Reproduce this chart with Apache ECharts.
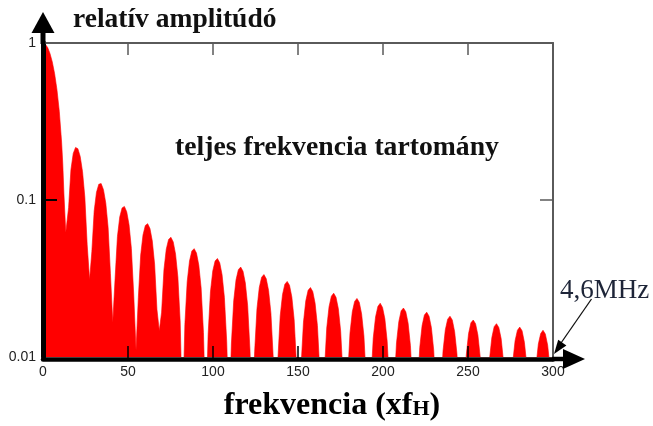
<!DOCTYPE html>
<html>
<head>
<meta charset="utf-8">
<script src="https://cdn.jsdelivr.net/npm/echarts@6/dist/echarts.min.js"></script>
<style>
html,body{margin:0;padding:0;background:#fff;}
#chart{width:653px;height:426px;}
</style>
</head>
<body>
<div id="chart"></div>
<script>
// Frequency (x fH) of each read point along the spectrum outline
const freq = [
  0, 1.37, 2.74, 4.10, 5.47, 6.84, 8.21, 9.58, 10.94, 11.63, 12.31,
  13.40,
  15.05, 16.42, 17.78, 19.15, 20.52, 21.89, 23.26, 24.62, 25.99,
  27.40,
  28.73, 30.10, 31.46, 32.83, 34.20, 35.57, 36.94, 38.30, 39.67,
  41.04,
  42.41, 43.78, 45.14, 46.51, 47.88, 49.25, 50.62, 51.98, 53.35,
  54.72,
  56.09, 57.46, 58.82, 60.19, 61.56, 62.93, 64.30, 65.66, 67.03,
  68.40,
  69.77, 71.14, 72.50, 73.87, 75.24, 76.61, 77.98, 79.34, 80.71,
  82.08,
  83.45, 84.82, 86.18, 87.55, 88.92, 90.29, 91.66, 93.02, 94.39,
  95.76,
  97.13, 98.50, 99.86, 101.23, 102.60, 103.97, 105.34, 106.70, 108.07,
  109.44,
  110.81, 112.18, 113.54, 114.91, 116.28, 117.65, 119.02, 120.38, 121.75,
  123.12,
  124.49, 125.86, 127.22, 128.59, 129.96, 131.33, 132.70, 134.06, 135.43,
  136.80,
  138.17, 139.54, 140.90, 142.27, 143.64, 145.01, 146.38, 147.74, 149.11,
  150.48,
  151.85, 153.22, 154.58, 155.95, 157.32, 158.69, 160.06, 161.42, 162.79,
  164.16,
  165.53, 166.90, 168.26, 169.63, 171.00, 172.37, 173.74, 175.10, 176.47,
  177.84,
  179.21, 180.58, 181.94, 183.31, 184.68, 186.05, 187.42, 188.78, 190.15,
  191.52,
  192.89, 194.26, 195.62, 196.99, 198.36, 199.73, 201.10, 202.46, 203.83,
  205.20,
  206.57, 207.94, 209.30, 210.67, 212.04, 213.41, 214.78, 216.14, 217.51,
  218.88,
  220.25, 221.62, 222.98, 224.35, 225.72, 227.09, 228.46, 229.82, 231.19,
  232.56,
  233.93, 235.30, 236.66, 238.03, 239.40, 240.77, 242.14, 243.50, 244.87,
  246.24,
  247.61, 248.98, 250.34, 251.71, 253.08, 254.45, 255.82, 257.18, 258.55,
  259.92,
  261.29, 262.66, 264.02, 265.39, 266.76, 268.13, 269.50, 270.86, 272.23,
  273.60,
  274.97, 276.34, 277.70, 279.07, 280.44, 281.81, 283.18, 284.54, 285.91,
  287.28,
  288.65, 290.02, 291.38, 292.75, 294.12, 295.49, 296.86, 298.22, 299.59,
  300
];
// Relative amplitude read at each of those frequencies
const amp = [
  1, 0.9836, 0.9355, 0.8584, 0.7568, 0.6366, 0.5046, 0.3679, 0.2339, 0.1700, 0.1093,
  0.0620,
  0.0894, 0.1559, 0.1981, 0.2162, 0.2122, 0.1892, 0.1515, 0.1040, 0.0518,
  0.0310,
  0.0468, 0.0851, 0.1120, 0.1261, 0.1273, 0.1164, 0.0954, 0.0668, 0.0339,
  0.0166,
  0.0317, 0.0585, 0.0780, 0.0890, 0.0910, 0.0841, 0.0696, 0.0492, 0.0252,
  0.0111,
  0.0240, 0.0446, 0.0599, 0.0688, 0.0707, 0.0658, 0.0548, 0.0390, 0.0201,
  0.0147,
  0.0193, 0.0360, 0.0486, 0.0561, 0.0579, 0.0541, 0.0452, 0.0323, 0.0167,
  0.004,
  0.0161, 0.0302, 0.0409, 0.0473, 0.0490, 0.0459, 0.0384, 0.0275, 0.0143,
  0.004,
  0.0139, 0.0260, 0.0353, 0.0409, 0.0424, 0.0398, 0.0334, 0.0240, 0.0125,
  0.004,
  0.0121, 0.0228, 0.0310, 0.0360, 0.0374, 0.0352, 0.0296, 0.0213, 0.0111,
  0.004,
  0.0108, 0.0203, 0.0277, 0.0322, 0.0335, 0.0315, 0.0265, 0.0191, 0.0099,
  0.004,
  0.0097, 0.0183, 0.0250, 0.0291, 0.0303, 0.0286, 0.0241, 0.0173, 0.0090,
  0.004,
  0.0089, 0.0167, 0.0228, 0.0266, 0.0277, 0.0261, 0.0220, 0.0159, 0.0083,
  0.004,
  0.0081, 0.0153, 0.0209, 0.0244, 0.0255, 0.0240, 0.0203, 0.0146, 0.0076,
  0.004,
  0.0075, 0.0142, 0.0194, 0.0226, 0.0236, 0.0223, 0.0188, 0.0136, 0.0071,
  0.004,
  0.0070, 0.0132, 0.0180, 0.0210, 0.0220, 0.0207, 0.0175, 0.0126, 0.0066,
  0.004,
  0.0065, 0.0123, 0.0168, 0.0197, 0.0205, 0.0194, 0.0164, 0.0118, 0.0062,
  0.004,
  0.0061, 0.0115, 0.0158, 0.0185, 0.0193, 0.0182, 0.0154, 0.0111, 0.0058,
  0.004,
  0.0058, 0.0109, 0.0149, 0.0174, 0.0182, 0.0172, 0.0145, 0.0105, 0.0055,
  0.004,
  0.0054, 0.0103, 0.0141, 0.0165, 0.0172, 0.0163, 0.0138, 0.0100, 0.0052,
  0.004,
  0.0052, 0.0097, 0.0133, 0.0156, 0.0163, 0.0154, 0.0131, 0.0094, 0.0049,
  0.004,
  0.0049, 0.0093, 0.0127, 0.0148, 0.0155, 0.0147, 0.0124, 0.0090, 0.0047,
  0.004,
  0.0047, 0.0088, 0.0121, 0.0141, 0.0148, 0.0140, 0.0119, 0.0086, 0.0045,
  0.004
];
const xTicks = [50, 100, 150, 200, 250];
const yTicks = [0.1];
const yTickText = ['0.01', '0.1', '1'];
const yTitle = 'relatív amplitúdó';
const xTitleMain = 'frekvencia (xf';
const xTitleSub = 'H';
const plotNote = 'teljes frekvencia tartomány';
const edgeNote = '4,6MHz';

const chart = echarts.init(document.getElementById('chart'), null, {renderer: 'canvas'});
const data = freq.map((x, i) => [x, amp[i]]);
const serif = "'Liberation Serif','Times New Roman',serif";
const sans = "'Liberation Sans',Arial,sans-serif";

chart.setOption({
  animation: false,
  backgroundColor: '#ffffff',
  grid: {left: 43, right: 100, top: 43, bottom: 69},
  xAxis: [{
    type: 'value', min: 0, max: 300, interval: 50, position: 'bottom', offset: 2, z: 5,
    axisLine: {show: true, lineStyle: {color: '#000', width: 4.5}},
    axisTick: {show: true, inside: true, length: 13, customValues: xTicks, lineStyle: {color: '#000', width: 1.5}},
    axisLabel: {show: true, margin: 6, color: '#222', fontSize: 14, fontFamily: sans},
    splitLine: {show: false}
  }, {
    type: 'value', min: 0, max: 300, interval: 50, position: 'top', z: 5,
    axisLine: {show: true, lineStyle: {color: '#5a5a5a', width: 2}},
    axisTick: {show: true, inside: true, length: 12, customValues: xTicks, lineStyle: {color: '#5a5a5a', width: 1.5}},
    axisLabel: {show: false},
    splitLine: {show: false}
  }],
  yAxis: [{
    type: 'log', logBase: 10, min: 0.01, max: 1, position: 'left', z: 5,
    axisLine: {show: true, lineStyle: {color: '#000', width: 5}},
    axisTick: {show: true, inside: true, length: 14, customValues: yTicks, lineStyle: {color: '#000', width: 2}},
    axisLabel: {show: true, margin: 7, color: '#222', fontSize: 14, fontFamily: sans,
      formatter: v => yTickText[Math.round(Math.log10(v)) + 2]},
    splitLine: {show: false}
  }, {
    type: 'log', logBase: 10, min: 0.01, max: 1, position: 'right', z: 5,
    axisLine: {show: true, onZero: false, lineStyle: {color: '#5a5a5a', width: 2}},
    axisTick: {show: true, inside: true, length: 13, customValues: yTicks, lineStyle: {color: '#5a5a5a', width: 1.5}},
    axisLabel: {show: false},
    splitLine: {show: false}
  }],
  series: [{
    type: 'line',
    xAxisIndex: 0, yAxisIndex: 0,
    data: data,
    showSymbol: false,
    symbol: 'none',
    clip: true,
    z: 2,
    lineStyle: {color: '#ff0000', width: 0.6},
    areaStyle: {color: '#ff0000', opacity: 1, origin: 'start'}
  }, {
    type: 'line',
    xAxisIndex: 1, yAxisIndex: 1,
    data: [[300, 0.01]],
    showSymbol: false,
    symbol: 'none',
    silent: true,
    lineStyle: {width: 0, opacity: 0}
  }]
});

const pBL = chart.convertToPixel({gridIndex: 0}, [0, 0.01]);
const pTL = chart.convertToPixel({gridIndex: 0}, [0, 1]);
const pBR = chart.convertToPixel({gridIndex: 0}, [300, 0.01]);
const x0 = pBL[0], yTop = pTL[1], xR = pBR[0], yB = pBL[1] + 2;

chart.setOption({
  graphic: [
    {type: 'line', z: 10, shape: {x1: x0, y1: yTop + 1, x2: x0, y2: yTop - 14}, style: {stroke: '#000', lineWidth: 5}},
    {type: 'polygon', z: 10, shape: {points: [[x0, yTop - 31], [x0 - 11.5, yTop - 10], [x0 + 11.5, yTop - 10]]}, style: {fill: '#000'}},
    {type: 'line', z: 10, shape: {x1: xR - 1, y1: yB, x2: xR + 14, y2: yB}, style: {stroke: '#000', lineWidth: 4.5}},
    {type: 'polygon', z: 10, shape: {points: [[xR + 32, yB], [xR + 10, yB - 10], [xR + 10, yB + 10]]}, style: {fill: '#000'}},
    {type: 'line', z: 10, shape: {x1: xR + 38.5, y1: yB - 60, x2: xR + 8, y2: yB - 16}, style: {stroke: '#111', lineWidth: 1.3}},
    {type: 'polygon', z: 10, shape: {points: [[xR + 1, yB - 5], [xR + 13.4, yB - 13.4], [xR + 5.2, yB - 19.2]]}, style: {fill: '#000'}},
    {type: 'text', z: 10, x: 73, y: 19.4, style: {text: yTitle, fill: '#111', font: 'bold 27.5px ' + serif, verticalAlign: 'middle', align: 'left'}},
    {type: 'text', z: 10, x: 175, y: 147.4, style: {text: plotNote, fill: '#111', font: 'bold 27.7px ' + serif, verticalAlign: 'middle', align: 'left'}},
    {type: 'text', z: 10, x: 560, y: 291.4, style: {text: edgeNote, fill: '#1e2538', font: '27px ' + serif, verticalAlign: 'middle', align: 'left'}},
    {type: 'text', z: 10, x: 332, y: 405.4, style: {
      text: '{a|' + xTitleMain + '}{b|' + xTitleSub + '}{a|)}',
      align: 'center', verticalAlign: 'middle',
      rich: {
        a: {fontFamily: serif, fontWeight: 'bold', fontSize: 32, lineHeight: 32, color: '#111'},
        b: {fontFamily: serif, fontWeight: 'bold', fontSize: 22, lineHeight: 22, color: '#111', verticalAlign: 'bottom', padding: [0, 0, 1.5, 0]}
      }
    }}
  ]
});
</script>
</body>
</html>
